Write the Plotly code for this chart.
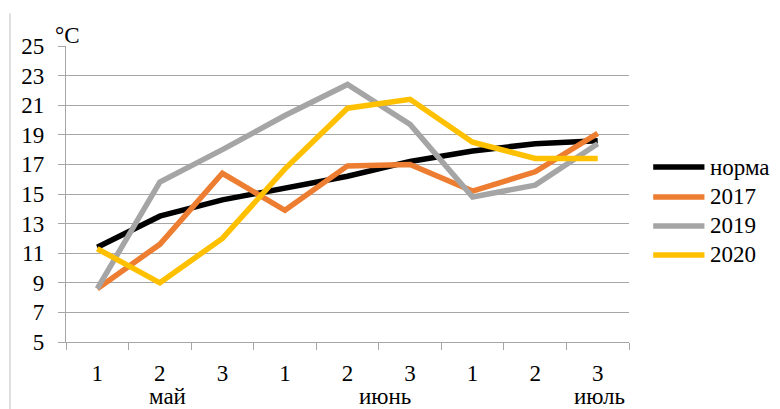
import plotly.graph_objects as go

decades = ["1", "2", "3", "1", "2", "3", "1", "2", "3"]
months = ["май", "июнь", "июль"]
series_names = ["норма", "2017", "2019", "2020"]
norma = [11.4, 13.5, 14.6, 15.4, 16.2, 17.2, 17.9, 18.4, 18.6]
y2017 = [8.6, 11.6, 16.4, 13.9, 16.9, 17.0, 15.2, 16.5, 19.1]
y2019 = [8.6, 15.8, 18.0, 20.3, 22.4, 19.7, 14.8, 15.6, 18.4]
y2020 = [11.3, 9.0, 12.0, 16.7, 20.8, 21.4, 18.5, 17.4, 17.4]
y_ticks = [5, 7, 9, 11, 13, 15, 17, 19, 21, 23, 25]

colors = ["#000000", "#ED7D31", "#A5A5A5", "#FFC000"]
FONT = "Liberation Serif"
FS = 23
GRID = "#a6a6a6"
x = list(range(1, len(decades) + 1))

fig = go.Figure()
for name, vals, col in zip(series_names, [norma, y2017, y2019, y2020], colors):
    fig.add_trace(go.Scatter(x=x, y=vals, name=name, mode="lines",
                             line=dict(color=col, width=5.5),
                             showlegend=False))

# invisible trace on overlay axis for boundary tick marks
fig.add_trace(go.Scatter(x=[0.5, 9.5], y=[None, None], xaxis="x2",
                         showlegend=False, hoverinfo="skip"))

# page body has an 8px margin, so the figure is 8px smaller each way
fig.update_layout(
    width=772, height=401,
    margin=dict(l=58, r=151, t=38, b=67),
    paper_bgcolor="white", plot_bgcolor="white",
    font=dict(family=FONT, size=FS, color="black"),
    xaxis=dict(range=[0.5, 9.5], tickvals=x, ticktext=decades,
               ticks="", showgrid=False, zeroline=False,
               showline=True, linecolor=GRID, linewidth=1.3,
               ticklabelstandoff=10,
               tickfont=dict(family=FONT, size=FS)),
    xaxis2=dict(range=[0.5, 9.5], overlaying="x", tickvals=[i + 0.5 for i in range(0, 10)],
                ticktext=[""] * 10, ticks="outside", ticklen=7, tickcolor=GRID,
                tickwidth=1.3, showgrid=False, zeroline=False, showline=False,
                side="bottom", anchor="y"),
    yaxis=dict(range=[5, 25], tickvals=y_ticks, ticks="outside", ticklen=7,
               tickcolor=GRID, tickwidth=1.3,
               showgrid=True, gridcolor=GRID, gridwidth=1.3,
               zeroline=False, showline=True, linecolor=GRID, linewidth=1.3,
               ticklabelstandoff=9,
               tickfont=dict(family=FONT, size=FS)),
)

# month labels
month_pos = [2.13, 5.6, 9.03]
for m, px in zip(months, month_pos):
    fig.add_annotation(x=px, y=-0.183, xref="x", yref="paper", text=m,
                       showarrow=False, font=dict(family=FONT, size=FS),
                       xanchor="center", yanchor="middle")

# unit label
fig.add_annotation(x=0.003, y=1.037, xref="paper", yref="paper", text="°C",
                   showarrow=False, font=dict(family=FONT, size=FS),
                   xanchor="center", yanchor="middle")

# manual legend
leg_y = [0.591, 0.490, 0.392, 0.294]
for name, col, ly in zip(series_names, colors, leg_y):
    fig.add_shape(type="line", xref="paper", yref="paper", x0=1.043, x1=1.134,
                  y0=ly, y1=ly, line=dict(color=col, width=5.5))
    fig.add_annotation(x=1.14, y=ly, xref="paper", yref="paper", text=name,
                       showarrow=False, font=dict(family=FONT, size=FS),
                       xanchor="left", yanchor="middle")

# chart-area left border
fig.add_shape(type="line", xref="paper", yref="paper", x0=-0.0995, x1=-0.0995,
              y0=1.11, y1=-0.23, line=dict(color="#bfbfbf", width=1))

fig.write_html("out.html")
